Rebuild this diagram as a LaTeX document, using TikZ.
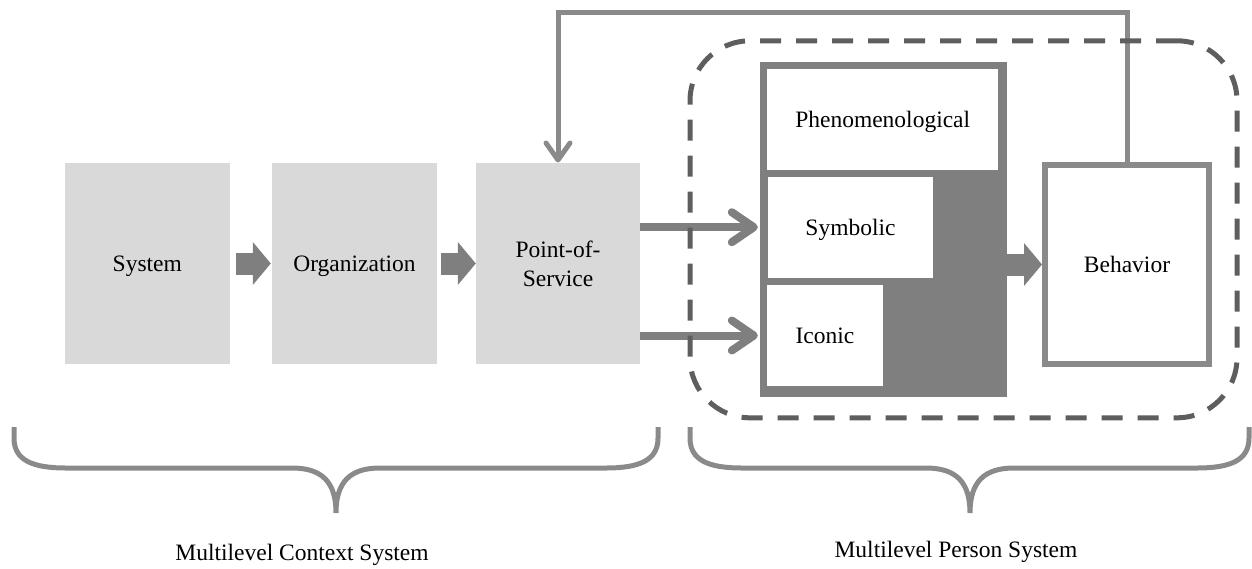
\documentclass[tikz,border=0pt]{standalone}
\usepackage{fontspec}
\setmainfont{Liberation Serif}
\usetikzlibrary{arrows.meta}
\definecolor{boxgray}{HTML}{D9D9D9}
\definecolor{midgray}{HTML}{7F7F7F}
\definecolor{linegray}{HTML}{8A8A8A}
\definecolor{dashgray}{HTML}{5E5E5E}

\tikzset{
  lbl/.style={font=\fontsize{23.5}{29}\selectfont, inner sep=0pt, align=center},
  oneline/.style={text depth=0pt},
  ctxbox/.style={lbl, fill=boxgray, minimum width=165pt, minimum height=201.6pt},
  levelbox/.style={lbl, oneline, fill=white, minimum height=101pt},
  fatarrow/.style={draw=midgray, line width=22pt, -{Triangle[length=18pt,width=42pt]}},
  openarrow/.style={draw=midgray, line width=8pt,
    -{Straight Barb[length=22pt,width=30pt,line cap=round,line join=round]}},
  bracepath/.style={draw=linegray, line width=5pt},
}

\begin{document}
\begin{tikzpicture}[x=1pt,y=-1pt]
  \useasboundingbox (0,0) rectangle (1252,568);

  % context levels
  \node[ctxbox, oneline] (sys) at (147.3,263.5) {System};
  \node[ctxbox, oneline] (org) at (354.5,263.5) {Organization};
  \node[ctxbox, minimum width=164pt] (pos) at (558,263.5) {Point-of-\\Service};

  % person levels
  \node[fill=midgray, minimum width=247pt, minimum height=335pt, inner sep=0pt] (person) at (883.5,229.2) {};
  \node[levelbox, minimum width=231pt] (phen) at (882.7,119.5) {Phenomenological};
  \node[levelbox, minimum width=165pt] (symb) at (850.5,227.2) {Symbolic};
  \node[levelbox, minimum width=116pt] (icon) at (825,335.5) {Iconic};

  \node[lbl, oneline, draw=linegray, fill=white, line width=6pt, minimum width=164pt, minimum height=199pt] (beh) at (1127,264.5) {Behavior};

  % block arrows between levels
  \draw[fatarrow] ([xshift=5.5pt]sys.east) -- ([xshift=-1pt]org.west);
  \draw[fatarrow] ([xshift=4pt]org.east) -- (pos.west);
  \draw[fatarrow] (person.east |- beh.west) -- (beh.west);

  % context into the person system
  \draw[openarrow] (pos.east |- symb.west) -- ([xshift=-2pt]person.west |- symb.west);
  \draw[openarrow] (pos.east |- icon.west) -- ([xshift=-2pt]person.west |- icon.west);

  % feedback from behavior to point of service
  \coordinate (fbtop) at (0,12.7);
  \draw[linegray, line width=5pt, -{Straight Barb[length=17pt,width=24pt,line cap=round,line join=round]}]
    (beh.north) -- (beh.north |- fbtop) -| (pos.north);

  % person system boundary
  \node[draw=dashgray, line width=5pt, dash pattern=on 21pt off 15pt, rounded corners=60pt,
        minimum width=547pt, minimum height=377pt, inner sep=0pt] (psys) at (963.5,229.3) {};

  % braces
  \draw[bracepath] (14,427) -- (14,438) .. controls (14,460) and (32,468) .. (66,468)
    -- (292,468) .. controls (322,468) and (336,482) .. (336,513)
    .. controls (336,482) and (350,468) .. (380,468)
    -- (606,468) .. controls (640,468) and (658,460) .. (658,438) -- (658,427);
  \draw[bracepath] (690,427) -- (690,438) .. controls (690,460) and (708,468) .. (742,468)
    -- (926,468) .. controls (956,468) and (970,482) .. (970,513)
    .. controls (970,482) and (984,468) .. (1014,468)
    -- (1197,468) .. controls (1231,468) and (1249,460) .. (1249,438) -- (1249,427);

  \node[lbl] (ctxlabel) at (302,555) {Multilevel Context System};
  \node[lbl] (perlabel) at (956,552) {Multilevel Person System};
\end{tikzpicture}
\end{document}
